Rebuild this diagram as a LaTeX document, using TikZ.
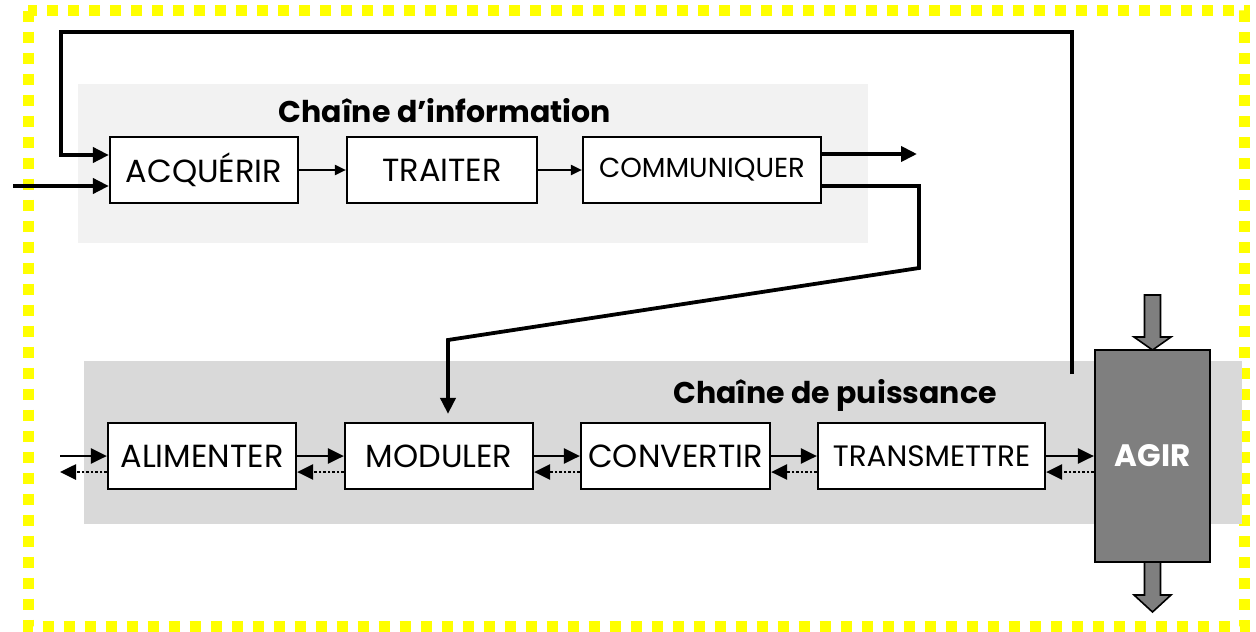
\documentclass[tikz,border=0pt]{standalone}
\usepackage{fontspec}
\setmainfont{Poppins}
\usetikzlibrary{arrows.meta,calc}
\definecolor{infobg}{HTML}{F2F2F2}
\definecolor{powbg}{HTML}{D9D9D9}
\definecolor{agirgray}{HTML}{7F7F7F}
\definecolor{frameyellow}{HTML}{FFFF00}
\begin{document}
\begin{tikzpicture}[x=1pt,y=-1pt,
  blk/.style={draw=black, line width=2.2pt, fill=white, inner sep=0pt,
    minimum height=66pt, font=\fontsize{32}{32}\selectfont},
  blksmall/.style={blk, font=\fontsize{27.5}{27.5}\selectfont},
  blkmid/.style={blk, font=\fontsize{29.5}{29.5}\selectfont},
  agirbox/.style={draw=black, line width=2.2pt, fill=agirgray, inner sep=0pt,
    minimum width=115pt, minimum height=212pt, text=white,
    font=\bfseries\fontsize{31}{31}\selectfont},
  chaintitle/.style={anchor=base, inner sep=0pt, font=\bfseries\fontsize{30}{30}\selectfont},
  smallflow/.style={line width=2pt, -{Triangle[length=11pt,width=10pt]}},
  heavyflow/.style={line width=3.8pt, -{Triangle[length=16pt,width=15pt]}},
  powflow/.style={line width=2.6pt, -{Triangle[length=16pt,width=15pt]}},
  powback/.style={line width=2.6pt, dash pattern=on 2.5pt off 2pt,
    -{Triangle[length=16pt,width=15pt]}},
  bigarrow/.style={fill=agirgray, draw=black, line width=1.6pt, line join=miter}
]
\useasboundingbox (0,0) rectangle (1256,632);

% dotted yellow frame
\draw[frameyellow, line width=11pt, dash pattern=on 11pt off 10pt] (28,10.5) rectangle (1244,626);

% background panels of the two chains
\fill[infobg] (78,84) rectangle (868,243);
\fill[powbg] (84,361) rectangle (1242,524);

\node[chaintitle] (titinfo) at (445,122) {Chaîne d’information};
\node[chaintitle] (titpow) at (835,403) {Chaîne de puissance};

% information chain
\node[blk, minimum width=188pt] (acq) at (204,170) {ACQUÉRIR};
\node[blk, minimum width=190pt] (tra) at (442,170) {TRAITER};
\node[blksmall, minimum width=238pt] (com) at (702,170) {COMMUNIQUER};

% power chain
\node[blk, minimum width=188pt] (ali) at (202,456) {ALIMENTER};
\node[blk, minimum width=188pt] (mod) at (439,456) {MODULER};
\node[blk, minimum width=189pt] (cnv) at (675.5,456) {CONVERTIR};
\node[blkmid, minimum width=227pt] (trm) at (931.5,456) {TRANSMETTRE};

% energy in / out of the effector
\filldraw[bigarrow] (1144.5,295) -- (1160.5,295) -- (1160.5,337) -- (1171,337)
  -- (1152.5,350) -- (1134,337) -- (1144.5,337) -- cycle;
\filldraw[bigarrow] (1144.5,562) -- (1160.5,562) -- (1160.5,595) -- (1171,595)
  -- (1152.5,612) -- (1134,595) -- (1144.5,595) -- cycle;
\node[agirbox] (agir) at (1152.5,456) {AGIR};

% free ends of connectors
\coordinate (fbstart) at (1072,374);
\coordinate (fbcorner) at (61,32);
\coordinate (inp) at (13,186);
\coordinate (comout) at (917,154);
\coordinate (k1) at (919,268);
\coordinate (k2) at (448,340);
\coordinate (src) at (60,456);
\coordinate (srcback) at (60,472);

% information chain connectors
\draw[heavyflow] (fbstart) |- (fbcorner) |- ($(acq.west)+(0,-15)$);
\draw[heavyflow] (inp) -- ($(acq.west)+(0,16)$);
\draw[smallflow] (acq) -- (tra);
\draw[smallflow] (tra) -- (com);
\draw[heavyflow] ($(com.east)+(0,-16)$) -- (comout);
\draw[heavyflow, line join=miter] ($(com.east)+(0,16)$) -| (k1) -- (k2) -- (k2 |- mod.north)
  [shorten >=8pt];

% power chain connectors
\draw[powflow] (src) -- (ali.west);
\draw[powback] ($(ali.west)+(0,16)$) -- (srcback);
\draw[powflow] (ali) -- (mod);
\draw[powback] ($(mod.west)+(0,16)$) -- ($(ali.east)+(0,16)$);
\draw[powflow] (mod) -- (cnv);
\draw[powback] ($(cnv.west)+(0,16)$) -- ($(mod.east)+(0,16)$);
\draw[powflow] (cnv) -- (trm);
\draw[powback] ($(trm.west)+(0,16)$) -- ($(cnv.east)+(0,16)$);
\draw[powflow] (trm) -- (agir);
\draw[powback] ($(agir.west)+(0,16)$) -- ($(trm.east)+(0,16)$);
\end{tikzpicture}
\end{document}
